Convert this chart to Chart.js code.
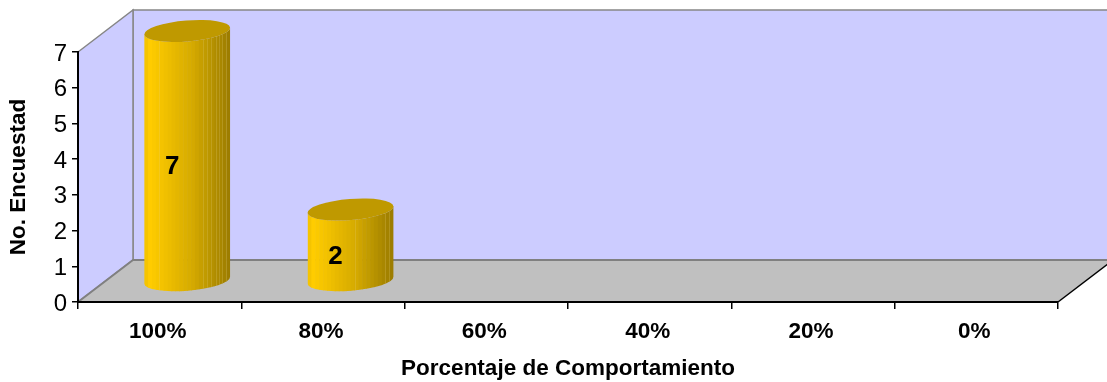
<!DOCTYPE html>
<html>
<head>
<meta charset="utf-8">
<style>
  html, body { margin: 0; padding: 0; background: #fff; overflow: hidden; }
  #wrap { width: 1107px; height: 382px; }
</style>
<script src="https://cdn.jsdelivr.net/npm/chart.js@4/dist/chart.umd.js"></script>
</head>
<body>
<div id="wrap"><canvas id="chart" width="1107" height="382"></canvas></div>
<script>
const categories = ['100%', '80%', '60%', '40%', '20%', '0%'];
const encuestados = [7, 2, null, null, null, null];
const yTicks = [0, 1, 2, 3, 4, 5, 6, 7];
const yAxisTitle = 'No. Encuestad';
const xAxisTitle = 'Porcentaje de Comportamiento';

// Oblique projection of the box: how far the back wall sits from the front plane.
const DEPTH_X = 55;
const DEPTH_Y = -42;
const FONT = '"Liberation Sans", Arial, sans-serif';

// Back wall, side wall and floor, painted under the axes.
const boxPlugin = {
  id: 'box',
  beforeDraw(chart) {
    const { ctx, chartArea: { left, right, top, bottom } } = chart;
    const poly = (pts, fill, stroke) => {
      ctx.beginPath();
      pts.forEach((p, i) => i ? ctx.lineTo(p[0], p[1]) : ctx.moveTo(p[0], p[1]));
      ctx.closePath();
      ctx.fillStyle = fill;
      ctx.fill();
      if (stroke) { ctx.strokeStyle = stroke; ctx.lineWidth = 1.5; ctx.stroke(); }
    };
    const bl = left + DEPTH_X, tb = top + DEPTH_Y, bb = bottom + DEPTH_Y, br = right + DEPTH_X;
    ctx.save();
    poly([[bl, tb], [br, tb], [br, bb], [bl, bb]], '#CCCCFF', '#868686');
    poly([[left, top], [bl, tb], [bl, bb], [left, bottom]], '#CCCCFF', '#868686');
    poly([[left, bottom], [bl, bb], [br, bb], [right, bottom]], '#C0C0C0');
    // Grey rear edges of the floor, black front-right edge.
    ctx.lineWidth = 2;
    ctx.strokeStyle = '#808080';
    ctx.beginPath();
    ctx.moveTo(left, bottom); ctx.lineTo(bl, bb); ctx.lineTo(br, bb);
    ctx.stroke();
    ctx.lineWidth = 1.5;
    ctx.strokeStyle = '#000';
    ctx.beginPath();
    ctx.moveTo(right, bottom); ctx.lineTo(br, bb);
    ctx.stroke();
    ctx.restore();
  }
};

// Shade between the lit left side and the dark right side of a cylinder.
function shade(t) {
  const stops = [
    [0, [240, 192, 0]], [0.07, [255, 204, 0]], [0.55, [214, 171, 0]], [1, [154, 123, 0]]
  ];
  for (let i = 1; i < stops.length; i++) {
    if (t <= stops[i][0]) {
      const [t0, c0] = stops[i - 1], [t1, c1] = stops[i];
      const k = (t - t0) / (t1 - t0);
      return 'rgb(' + c0.map((v, j) => Math.round(v + (c1[j] - v) * k)).join(',') + ')';
    }
  }
  return 'rgb(154,123,0)';
}

// Turns each bar element into a faceted cylinder standing mid-way across the floor.
const cylinderPlugin = {
  id: 'cylinder',
  afterDatasetsDraw(chart) {
    const { ctx } = chart;
    const meta = chart.getDatasetMeta(0);
    const tilt = -0.08;
    meta.data.forEach((bar, i) => {
      const value = encuestados[i];
      if (value === null) return;
      const cx = bar.x + DEPTH_X / 2;
      const yTop = bar.y + DEPTH_Y / 2;
      const yBase = bar.base + DEPTH_Y / 2;
      const a = bar.width / 2, b = 10.5;
      const sx = a * Math.cos(tilt), sy = a * Math.sin(tilt);

      ctx.save();
      ctx.beginPath();
      ctx.moveTo(cx - sx, yTop - sy);
      ctx.lineTo(cx - sx, yBase - sy);
      ctx.ellipse(cx, yBase, a, b, tilt, Math.PI, 0, true);
      ctx.lineTo(cx + sx, yTop + sy);
      ctx.ellipse(cx, yTop, a, b, tilt, 0, Math.PI, false);
      ctx.closePath();
      ctx.clip();

      // Vertical facets, stepping from the lit side to the shaded side.
      const facets = 22;
      for (let f = 0; f < facets; f++) {
        const x0 = cx - a + 2 * a * f / facets;
        const x1 = cx - a + 2 * a * (f + 1) / facets;
        ctx.fillStyle = shade((f + 0.5) / facets);
        ctx.fillRect(x0, yTop - 20, x1 - x0 + 0.6, yBase - yTop + 45);
      }
      // Pale seams where the facets meet on the shaded side.
      ctx.strokeStyle = 'rgba(235,215,130,0.22)';
      ctx.lineWidth = 1;
      const seams = value > 2
        ? [0.17, 0.68, 0.73, 0.78, 0.83, 0.87, 0.91, 0.95]
        : [0.55, 0.9, 0.95];
      seams.forEach(s => {
        const x = Math.round(cx - a + 2 * a * s) + 0.5;
        ctx.beginPath();
        ctx.moveTo(x, yTop - 20);
        ctx.lineTo(x, yBase + 20);
        ctx.stroke();
      });
      ctx.restore();

      // Flat top face.
      ctx.beginPath();
      ctx.ellipse(cx, yTop, a, b, tilt, 0, Math.PI * 2);
      ctx.fillStyle = '#BF9900';
      ctx.fill();

      // Value printed on the front of the cylinder.
      ctx.fillStyle = '#000';
      ctx.font = 'bold 26px ' + FONT;
      ctx.textAlign = 'center';
      ctx.textBaseline = 'middle';
      ctx.fillText(String(value), cx - 15, (bar.y + bar.base) / 2 - 9.5);
    });
  }
};

new Chart(document.getElementById('chart'), {
  type: 'bar',
  data: {
    labels: categories,
    datasets: [{
      data: encuestados,
      backgroundColor: 'rgba(0,0,0,0)',
      borderWidth: 0,
      categoryPercentage: 1,
      barPercentage: 0.527
    }]
  },
  options: {
    responsive: false,
    animation: false,
    events: [],
    layout: { padding: { top: 52, right: 49, left: 5, bottom: 0 } },
    plugins: { legend: { display: false }, tooltip: { enabled: false }, title: { display: false } },
    scales: {
      x: {
        afterFit(s) { s.height = 80; },
        grid: { drawOnChartArea: false, drawTicks: true, tickLength: 7, color: '#000', lineWidth: 1.5 },
        border: { display: true, color: '#000', width: 2 },
        ticks: {
          color: '#000',
          font: { family: FONT, size: 22.5, weight: 'bold' },
          padding: 9,
          labelOffset: -2,
          maxRotation: 0
        },
        title: {
          display: true,
          text: xAxisTitle,
          color: '#000',
          font: { family: FONT, size: 22.5, weight: 'bold' },
          padding: { top: 12, bottom: 0 }
        }
      },
      y: {
        min: 0,
        max: 7,
        afterFit(s) { s.width = 73; },
        afterBuildTicks(s) { s.ticks = yTicks.map(v => ({ value: v })); },
        grid: { drawOnChartArea: false, drawTicks: true, tickLength: 6, color: '#000', lineWidth: 1.5 },
        border: { display: true, color: '#000', width: 2 },
        ticks: {
          color: '#000',
          font: { family: FONT, size: 24 },
          padding: 5,
          labelOffset: 2
        },
        title: {
          display: true,
          text: yAxisTitle,
          color: '#000',
          font: { family: FONT, size: 22.5, weight: 'bold' },
          padding: { top: 0, bottom: 0 }
        }
      }
    }
  },
  plugins: [boxPlugin, cylinderPlugin]
});
</script>
</body>
</html>
